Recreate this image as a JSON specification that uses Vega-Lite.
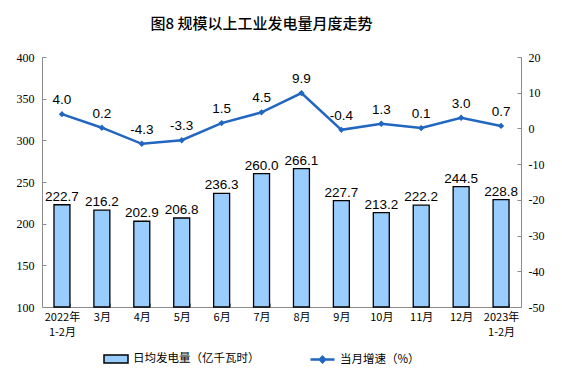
{
  "$schema": "https://vega.github.io/schema/vega-lite/v6.json",
  "width": 479,
  "height": 250,
  "autosize": {"type": "none"},
  "padding": {"left": 42, "top": 57, "right": 41, "bottom": 65},
  "background": "white",
  "title": {"text": "图8 规模以上工业发电量月度走势", "font": "Noto Sans CJK SC", "fontSize": 15, "fontWeight": 500, "color": "#000000", "offset": 19, "dx": -20, "anchor": "middle"},
  "config": {
    "view": {"stroke": null},
    "axis": {"grid": false, "domainColor": "#8c8c8c", "tickColor": "#8c8c8c", "labelColor": "#000000", "titleColor": "#000000"},
    "legend": {"labelFont": "Noto Sans CJK SC", "labelFontSize": 11.5, "labelColor": "#000000"}
  },
  "data": {"values": [
    {"m": "2022年|1-2月", "v": 222.7, "g": 4.0},
    {"m": "3月", "v": 216.2, "g": 0.2},
    {"m": "4月", "v": 202.9, "g": -4.3},
    {"m": "5月", "v": 206.8, "g": -3.3},
    {"m": "6月", "v": 236.3, "g": 1.5},
    {"m": "7月", "v": 260.0, "g": 4.5},
    {"m": "8月", "v": 266.1, "g": 9.9},
    {"m": "9月", "v": 227.7, "g": -0.4},
    {"m": "10月", "v": 213.2, "g": 1.3},
    {"m": "11月", "v": 222.2, "g": 0.1},
    {"m": "12月", "v": 244.5, "g": 3.0},
    {"m": "2023年|1-2月", "v": 228.8, "g": 0.7}
  ]},
  "transform": [
    {"calculate": "replace(format(datum.g, '.1f'), '\u2212', '-')", "as": "gl"}
  ],
  "encoding": {
    "x": {"field": "m", "type": "nominal", "sort": null, "title": null,
      "scale": {"paddingInner": 0.6, "paddingOuter": 0.3},
      "axis": {"labelAngle": 0, "labelExpr": "split(datum.label, '|')", "labelFont": "Noto Sans CJK SC", "labelFontSize": 11, "labelPadding": 8, "tickBand": "extent", "tickSize": -4, "domainColor": "#8c8c8c", "labelLineHeight": 15, "labelOverlap": false}
    }
  },
  "layer": [
    {
      "encoding": {
        "y": {"field": "v", "type": "quantitative", "title": null, "scale": {"domain": [100, 400], "zero": false},
          "axis": {"orient": "left", "values": [100, 150, 200, 250, 300, 350, 400], "tickSize": -4, "labelFont": "Liberation Serif", "labelFontSize": 12, "labelPadding": 12, "labelOverlap": false}}
      },
      "layer": [
        {
          "mark": {"type": "bar", "stroke": "#000000", "strokeWidth": 1.3},
          "encoding": {
            "y2": {"datum": 100},
            "fill": {"datum": "日均发电量（亿千瓦时）", "type": "nominal", "scale": {"range": ["#99ccff"]},
              "legend": {"title": null, "orient": "none", "legendX": 61, "legendY": 289, "symbolType": "M-1,-0.33H1V0.33H-1Z", "symbolSize": 576, "symbolStrokeColor": "#000000", "symbolStrokeWidth": 1.5}}
          }
        },
        {
          "mark": {"type": "text", "baseline": "bottom", "dy": -1, "font": "Liberation Sans", "fontSize": 13.5, "color": "#000000"},
          "encoding": {
            "text": {"field": "v", "type": "quantitative", "format": ".1f"}
          }
        }
      ]
    },
    {
      "encoding": {
        "y": {"field": "g", "type": "quantitative", "title": null, "scale": {"domain": [-50, 20]},
          "axis": {"orient": "right", "values": [-50, -40, -30, -20, -10, 0, 10, 20], "labelExpr": "datum.value + ''", "tickSize": -4, "labelFont": "Liberation Serif", "labelFontSize": 12, "labelPadding": 11, "labelOverlap": false}}
      },
      "layer": [
        {
          "mark": {"type": "line", "color": "#2166c0", "strokeWidth": 2.5},
          "encoding": {
            "stroke": {"datum": "当月增速（%）", "type": "nominal", "scale": {"range": ["#2166c0"]},
              "legend": {"title": null, "orient": "none", "legendX": 267, "legendY": 289, "symbolType": "M-1,0H1M0,-0.22L0.22,0L0,0.22L-0.22,0Z", "symbolSize": 576, "symbolFillColor": "#2166c0", "symbolStrokeWidth": 2.5}}
          }
        },
        {
          "mark": {"type": "point", "shape": "diamond", "filled": true, "size": 40, "color": "#2166c0", "opacity": 1}
        },
        {
          "mark": {"type": "text", "dy": -14, "font": "Liberation Sans", "fontSize": 13.5, "color": "#000000"},
          "encoding": {
            "text": {"field": "gl", "type": "nominal"}
          }
        }
      ]
    }
  ],
  "resolve": {"scale": {"y": "independent", "fill": "independent", "stroke": "independent"}}
}
